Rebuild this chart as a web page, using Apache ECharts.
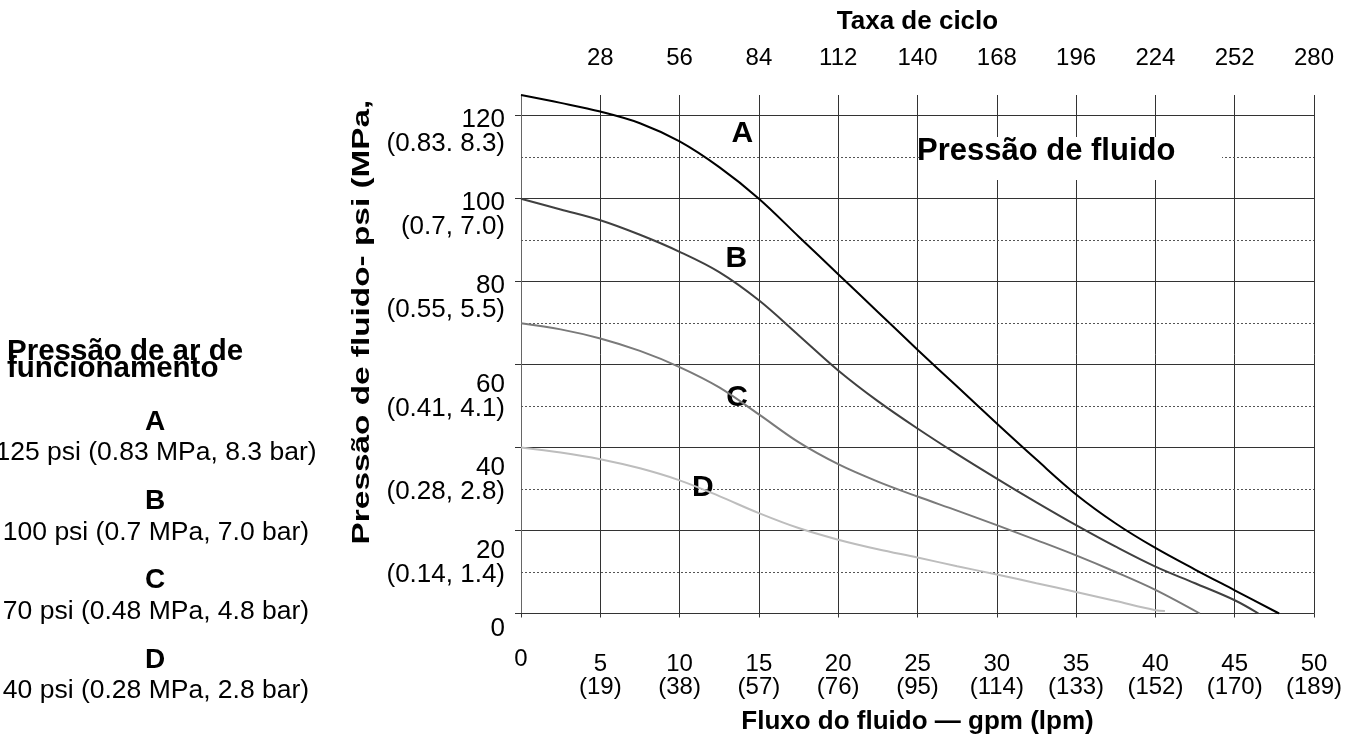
<!DOCTYPE html>
<html>
<head>
<meta charset="utf-8">
<script src="https://cdn.jsdelivr.net/npm/echarts@6/dist/echarts.min.js"></script>
<style>
html,body{margin:0;padding:0;background:#fff;}
#chart{width:1348px;height:735px;}
</style>
</head>
<body>
<div id="chart"></div>
<script>
// ---- data ----
const flowA = [0, 2.5, 5, 7.5, 10, 12.5, 15, 17.5, 20, 22.5, 25, 27.5, 30, 32.5, 35, 37.5, 40, 42.5, 45, 47.8];
const psiA  = [125, 123.1, 121, 118.2, 113.8, 107.6, 100, 90.9, 81.8, 72.7, 63.6, 54.7, 45.8, 37.1, 28.7, 21.7, 15.8, 10.6, 5.6, 0];
const flowB = [0, 2.5, 5, 7.5, 10, 12.5, 15, 17.5, 20, 22.5, 25, 27.5, 30, 32.5, 35, 37.5, 40, 42.5, 45, 46.5];
const psiB  = [100, 97.4, 94.8, 91.3, 87.2, 82.3, 75.5, 67.1, 58.6, 51.2, 44.6, 38.4, 32.5, 26.8, 21.3, 16.1, 11.3, 7.3, 3.2, 0];
const flowC = [0, 2.5, 5, 7.5, 10, 12.5, 15, 17.5, 20, 22.5, 25, 27.5, 30, 32.5, 35, 37.5, 40, 42.8];
const psiC  = [70, 68.5, 66.3, 63.3, 59.4, 54.5, 48, 41.3, 36, 31.8, 28.2, 24.8, 21.3, 17.7, 14, 10, 5.7, 0];
const flowD = [0, 2.5, 5, 7.5, 10, 12.5, 15, 17.5, 20, 22.5, 25, 27.5, 30, 32.5, 35, 37.5, 40, 40.6];
const psiD  = [40, 38.8, 37.2, 35, 32.1, 28.3, 24.2, 20.6, 17.8, 15.5, 13.5, 11.4, 9.4, 7.3, 5.2, 3, 0.8, 0.6];

const curveNames = ['A', 'B', 'C', 'D'];
const curveLabelAt = [[13.96, 115.7], [13.58, 85.6], [13.62, 52.1], [11.47, 30.2]];

const lpmLabels = ['', '(19)', '(38)', '(57)', '(76)', '(95)', '(114)', '(133)', '(152)', '(170)', '(189)'];
const mpaLabels = ['', '(0.14, 1.4)', '(0.28, 2.8)', '(0.41, 4.1)', '(0.55, 5.5)', '(0.7, 7.0)', '(0.83. 8.3)'];
const psiTicks = [0, 20, 40, 60, 80, 100, 120];
const dottedLevels = [10, 30, 50, 70, 90, 110];

const legendTitle = ['Pressão de ar de', 'funcionamento'];
const legendLetters = ['A', 'B', 'C', 'D'];
const legendTexts = ['125 psi (0.83 MPa, 8.3 bar)', '100 psi (0.7 MPa, 7.0 bar)', '70 psi (0.48 MPa, 4.8 bar)', '40 psi (0.28 MPa, 2.8 bar)'];

// ---- styles ----
const FONT = '"Liberation Sans", Arial, Helvetica, sans-serif';
const curveColors = ['#000000', '#404040', '#7a7a7a', '#bdbdbd'];

function pairs(xs, ys) { return xs.map((x, i) => [x, ys[i]]); }
const curves = [pairs(flowA, psiA), pairs(flowB, psiB), pairs(flowC, psiC), pairs(flowD, psiD)];

const chart = echarts.init(document.getElementById('chart'), null, {renderer: 'canvas'});

const series = curves.map((d, i) => ({
  type: 'line',
  data: d,
  smooth: 0.35,
  symbol: 'none',
  silent: true,
  lineStyle: {color: curveColors[i], width: 2},
  z: 5,
  markPoint: {
    silent: true,
    symbol: 'circle',
    symbolSize: 1,
    itemStyle: {color: 'rgba(0,0,0,0)'},
    label: {show: true, position: 'inside', formatter: curveNames[i],
      fontFamily: FONT, fontWeight: 'bold', fontSize: 30, color: '#000'},
    data: [{coord: curveLabelAt[i]}]
  }
}));
series[0].markLine = {
  silent: true,
  symbol: 'none',
  label: {show: false},
  lineStyle: {type: [2, 2], color: '#555', width: 1},
  data: dottedLevels.map(v => ({yAxis: v})),
  z: 1
};

const legendGraphics = [];
legendGraphics.push({type: 'text', x: 7, y: 352, z: 100,
  style: {text: legendTitle[0], font: 'bold 29.5px ' + FONT, fill: '#000', align: 'left', verticalAlign: 'middle'}});
legendGraphics.push({type: 'text', x: 7, y: 369, z: 100,
  style: {text: legendTitle[1], font: 'bold 29.5px ' + FONT, fill: '#000', align: 'left', verticalAlign: 'middle'}});
legendLetters.forEach((L, i) => {
  const yL = 422 + i * 79.3;
  legendGraphics.push({type: 'text', x: 155, y: yL, z: 100,
    style: {text: L, font: 'bold 28px ' + FONT, fill: '#000', align: 'center', verticalAlign: 'middle'}});
  legendGraphics.push({type: 'text', x: 156, y: yL + 31, z: 100,
    style: {text: legendTexts[i], font: '26.5px ' + FONT, fill: '#000', align: 'center', verticalAlign: 'middle'}});
});

function yLabel(v) {
  if (v === 0) return '{s0| }\n{a|0}';
  const spacer = v >= 80 ? 's1' : 's2';
  return '{' + spacer + '| }\n{a|' + v + '}\n{a|' + mpaLabels[v / 20] + '}';
}

const option = {
  backgroundColor: '#fff',
  animation: false,
  grid: {left: 521, top: 95, width: 793, height: 518.5, outerBoundsMode: 'none', containLabel: false},
  xAxis: [
    {
      type: 'value', position: 'bottom', min: 0, max: 50, interval: 5,
      axisLine: {show: true, lineStyle: {color: '#333', width: 1}},
      axisTick: {show: true, length: 4, inside: false, lineStyle: {color: '#333'}},
      splitLine: {show: true, lineStyle: {color: '#333', width: 1}},
      axisLabel: {
        margin: 39, hideOverlap: false,
        formatter: v => v === 0 ? '{z|0}' : '{a|' + v + '}\n{a|' + lpmLabels[v / 5] + '}',
        rich: {
          a: {fontFamily: FONT, fontSize: 24, lineHeight: 23, color: '#000', align: 'center'},
          z: {fontFamily: FONT, fontSize: 24, lineHeight: 13, color: '#000', align: 'center'}
        }
      },
      name: 'Fluxo do fluido — gpm (lpm)', nameLocation: 'middle', nameGap: 95,
      nameTextStyle: {fontFamily: FONT, fontWeight: 'bold', fontSize: 26, color: '#000'}
    },
    {
      type: 'value', position: 'top', min: 0, max: 280, interval: 28,
      axisLine: {show: false}, axisTick: {show: false}, splitLine: {show: false},
      axisLabel: {margin: 25, showMinLabel: false, hideOverlap: false,
        fontFamily: FONT, fontSize: 24, color: '#000'},
      name: 'Taxa de ciclo', nameLocation: 'middle', nameGap: 60,
      nameTextStyle: {fontFamily: FONT, fontWeight: 'bold', fontSize: 26, color: '#000'}
    }
  ],
  yAxis: {
    type: 'value', min: 0, max: 125, interval: 20,
    axisLine: {show: true, lineStyle: {color: '#666', width: 1}},
    axisTick: {show: true, length: 6, customValues: psiTicks, lineStyle: {color: '#333'}},
    splitLine: {show: true, lineStyle: {color: '#333', width: 1}},
    axisLabel: {
      margin: 16, hideOverlap: false, customValues: psiTicks,
      formatter: yLabel,
      rich: {
        a: {fontFamily: FONT, fontSize: 26, lineHeight: 24, color: '#000', align: 'right'},
        s0: {fontSize: 1, lineHeight: 30},
        s1: {fontSize: 1, lineHeight: 32},
        s2: {fontSize: 1, lineHeight: 64}
      }
    }
  },
  graphic: legendGraphics.concat([
    {type: 'text', x: 363, y: 322, rotation: Math.PI / 2, scaleX: 1.45, z: 100,
      style: {text: 'Pressão de fluido- psi (MPa,', font: 'bold 23px ' + FONT, fill: '#000', align: 'center', verticalAlign: 'middle'}},
    {type: 'rect', z: 99, shape: {x: 925, y: 137, width: 297, height: 43}, style: {fill: '#fff'}},
    {type: 'text', x: 917, y: 151, z: 100,
      style: {text: 'Pressão de fluido', font: 'bold 31px ' + FONT, fill: '#000', align: 'left', verticalAlign: 'middle'}}
  ]),
  series: series
};
chart.setOption(option);
</script>
</body>
</html>
